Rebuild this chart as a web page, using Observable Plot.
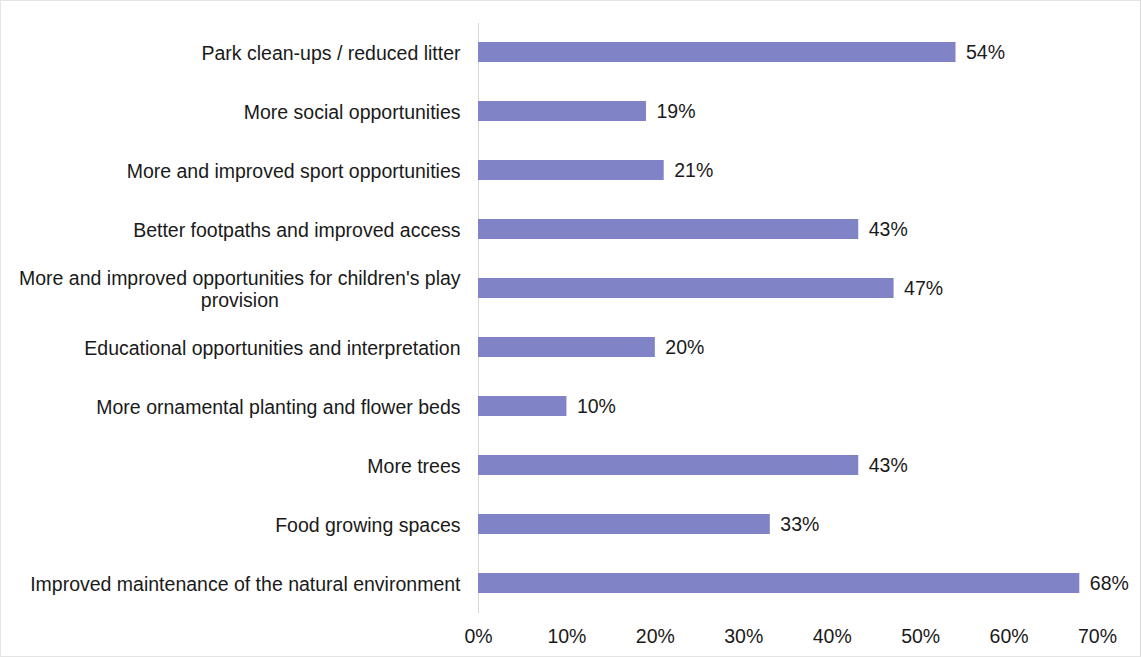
<!DOCTYPE html>
<html>
<head>
<meta charset="utf-8">
<script src="https://cdn.jsdelivr.net/npm/d3@7"></script>
<script src="https://cdn.jsdelivr.net/npm/@observablehq/plot@0.6"></script>
<style>
  html, body { margin: 0; padding: 0; background: #fff; }
  #chart { width: 1141px; height: 657px; box-sizing: border-box; border: 1px solid #e4e4e4; border-right-color: #dadada; }
  #chart svg { display: block; }
</style>
</head>
<body>
<div id="chart"></div>
<script>
const categories = [
  "Park clean-ups / reduced litter",
  "More social opportunities",
  "More and improved sport opportunities",
  "Better footpaths and improved access",
  "More and improved opportunities for children's play\nprovision",
  "Educational opportunities and interpretation",
  "More ornamental planting and flower beds",
  "More trees",
  "Food growing spaces",
  "Improved maintenance of the natural environment"
];
const values = [54, 19, 21, 43, 47, 20, 10, 43, 33, 68];
const xTicks = [0, 10, 20, 30, 40, 50, 60, 70];

const data = categories.map((c, i) => ({category: c, value: values[i]}));
const FS = 19.5;

const plot = Plot.plot({
  width: 1139,
  height: 655,
  marginLeft: 477,
  marginRight: 43,
  marginTop: 22,
  marginBottom: 43,
  style: {fontFamily: "Liberation Sans, Arial, sans-serif", fontSize: FS + "px", color: "#1a1a1a", background: "#fff"},
  x: {domain: [0, 70], ticks: xTicks, tickFormat: d => d + "%"},
  y: {domain: categories, paddingInner: 0.66, paddingOuter: 0.33},
  marks: [
    Plot.ruleX([0], {stroke: "#d9d9d9"}),
    Plot.barX(data, {x: "value", y: "category", fill: "#8084c6"}),
    Plot.text(data, {x: "value", y: "category", text: d => d.value + "%", textAnchor: "start", dx: 10, fontSize: FS, fill: "#1a1a1a"}),
    Plot.axisX({ticks: xTicks, tickFormat: d => d + "%", tickSize: 0, tickPadding: 16, label: null, fontSize: FS}),
    Plot.axisY({tickSize: 0, tickPadding: 18, label: null, fontSize: FS, lineHeight: 1.13})
  ]
});
document.getElementById("chart").appendChild(plot);

// Center-align the lines of the wrapped category label, as in the reference
d3.select(plot).selectAll("g[aria-label='y-axis tick label'] text").each(function() {
  const tspans = this.querySelectorAll("tspan");
  if (tspans.length > 1) {
    const bbox = this.getBBox();
    const cx = bbox.x + bbox.width / 2;
    const el = d3.select(this);
    el.attr("text-anchor", "middle");
    const tr = this.getAttribute("transform") || "";
    el.attr("transform", tr + ` translate(${cx},0)`);
  }
});
</script>
</body>
</html>
